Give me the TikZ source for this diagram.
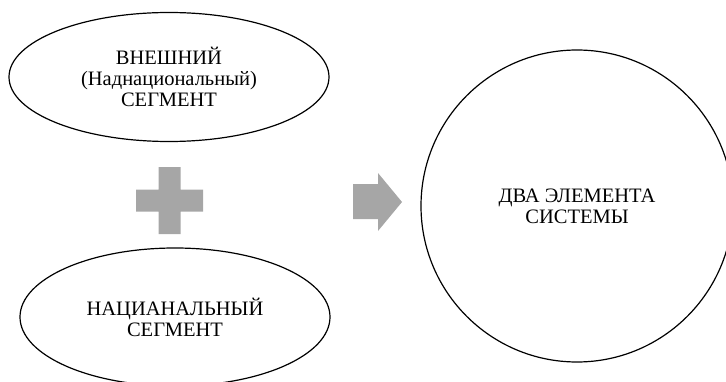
\documentclass[tikz,border=0pt]{standalone}
\usepackage{fontspec}
\setmainfont{Liberation Serif}
\usepackage{tikz}
\usetikzlibrary{shapes.geometric}
\definecolor{signgray}{RGB}{166,166,166}

\begin{document}
\begin{tikzpicture}[x=10pt, y=10pt,
    segment/.style={draw, ellipse, line width=1.2pt, align=center, inner sep=0pt,
        font=\fontsize{20.5}{21}\selectfont}]
    \useasboundingbox (0,0) rectangle (72.6,38.1);

    % сегменты
    \node[segment, minimum width=320pt, minimum height=129pt] (outer) at (16.9,30.4)
        {ВНЕШНИЙ\\(Наднациональный)\\СЕГМЕНТ};
    \node[segment, minimum width=310pt, minimum height=138pt] (national) at (17.5,6.4)
        {НАЦИАНАЛЬНЫЙ\\СЕГМЕНТ};

    % система
    \node[segment, circle, minimum size=312pt] (system) at (57.7,17.5)
        {ДВА ЭЛЕМЕНТА\\СИСТЕМЫ};

    % плюс
    \fill[signgray] (15.85,14.7) -- (18.05,14.7) -- (18.05,16.95) -- (20.3,16.95)
        -- (20.3,19.15) -- (18.05,19.15) -- (18.05,21.4) -- (15.85,21.4)
        -- (15.85,19.15) -- (13.6,19.15) -- (13.6,16.95) -- (15.85,16.95) -- cycle;

    % стрелка
    \fill[signgray] (35.3,16.2) -- (37.8,16.2) -- (37.8,15.0) -- (40.2,17.9)
        -- (37.8,20.8) -- (37.8,19.7) -- (35.3,19.7) -- cycle;
\end{tikzpicture}
\end{document}
